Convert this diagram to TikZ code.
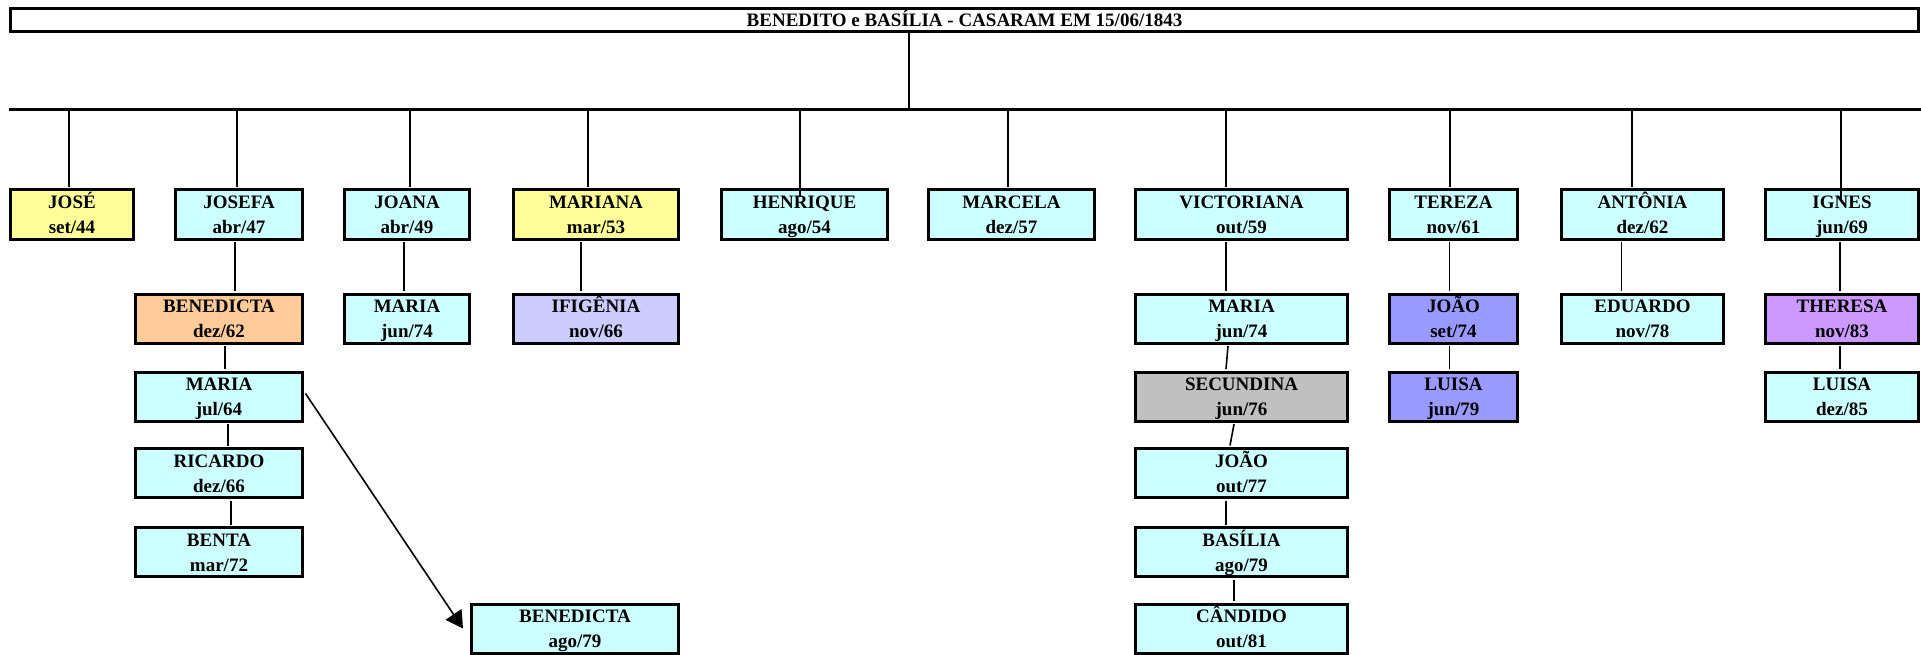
\documentclass[tikz,border=0pt]{standalone}
\usepackage{fontspec}
\setmainfont{Liberation Serif}
\usetikzlibrary{arrows.meta}
\definecolor{cyanbox}{HTML}{CCFFFF}
\definecolor{yellowbox}{HTML}{FFFF99}
\definecolor{orangebox}{HTML}{FFCC99}
\definecolor{lavenderbox}{HTML}{CCCCFF}
\definecolor{bluebox}{HTML}{9999FF}
\definecolor{purplebox}{HTML}{CC99FF}
\definecolor{graybox}{HTML}{C0C0C0}
\begin{document}
\begin{tikzpicture}[x=1pt,y=-1pt,
  person/.style={draw=black, line width=3pt, inner sep=0pt, align=center,
    font=\bfseries\fontsize{19}{25}\selectfont, text height=38pt, text depth=-1pt,
    minimum height=49pt},
  titlebox/.style={draw=black, line width=3pt, inner sep=0pt,
    font=\bfseries\fontsize{19}{25}\selectfont, text height=13pt, text depth=0pt,
    minimum height=23pt, minimum width=1908pt},
  link/.style={line width=1.6pt},
  bar/.style={line width=3pt},
  arrowlink/.style={line width=1.6pt, -{Triangle[length=17pt,width=19pt]}}]
\useasboundingbox (0,0) rectangle (1921,655);
\fill[white] (0,0) rectangle (1921,655);

% title
\node[titlebox] (title) at (964.5,20) {BENEDITO e BASÍLIA - CASARAM EM 15/06/1843};
\coordinate (barL) at (9,110);
\coordinate (barR) at (1921,110);
\coordinate (barC) at (909,110);

% row 1
\node[person, fill=yellowbox, minimum width=123pt] (jose) at (72,214.5) {JOSÉ\\set/44};
\node[person, fill=cyanbox, minimum width=127pt] (josefa) at (239,214.5) {JOSEFA\\abr/47};
\node[person, fill=cyanbox, minimum width=125pt] (joana) at (407,214.5) {JOANA\\abr/49};
\node[person, fill=yellowbox, minimum width=165pt] (mariana) at (596,214.5) {MARIANA\\mar/53};
\node[person, fill=cyanbox, minimum width=166pt] (henrique) at (804.5,214.5) {HENRIQUE\\ago/54};
\node[person, fill=cyanbox, minimum width=166pt] (marcela) at (1011.5,214.5) {MARCELA\\dez/57};
\node[person, fill=cyanbox, minimum width=212pt] (victoriana) at (1241.5,214.5) {VICTORIANA\\out/59};
\node[person, fill=cyanbox, minimum width=128pt] (tereza) at (1453.5,214.5) {TEREZA\\nov/61};
\node[person, fill=cyanbox, minimum width=162pt] (antonia) at (1642.5,214.5) {ANTÔNIA\\dez/62};
\node[person, fill=cyanbox, minimum width=153pt] (ignes) at (1842,214.5) {IGNES\\jun/69};

% row 2
\node[person, fill=orangebox, minimum width=167pt] (benedicta1) at (219,318.5) {BENEDICTA\\dez/62};
\node[person, fill=cyanbox, minimum width=125pt] (mariaj) at (407,318.5) {MARIA\\jun/74};
\node[person, fill=lavenderbox, minimum width=165pt] (ifigenia) at (596,318.5) {IFIGÊNIA\\nov/66};
\node[person, fill=cyanbox, minimum width=212pt] (mariav) at (1241.5,318.5) {MARIA\\jun/74};
\node[person, fill=bluebox, minimum width=128pt] (joaot) at (1453.5,318.5) {JOÃO\\set/74};
\node[person, fill=cyanbox, minimum width=162pt] (eduardo) at (1642.5,318.5) {EDUARDO\\nov/78};
\node[person, fill=purplebox, minimum width=153pt] (theresa) at (1842,318.5) {THERESA\\nov/83};

% row 3
\node[person, fill=cyanbox, minimum width=167pt] (maria64) at (219,396.5) {MARIA\\jul/64};
\node[person, fill=graybox, minimum width=212pt] (secundina) at (1241.5,396.5) {SECUNDINA\\jun/76};
\node[person, fill=bluebox, minimum width=128pt] (luisa79) at (1453.5,396.5) {LUISA\\jun/79};
\node[person, fill=cyanbox, minimum width=153pt] (luisa85) at (1842,396.5) {LUISA\\dez/85};

% row 4
\node[person, fill=cyanbox, minimum width=167pt] (ricardo) at (219,473) {RICARDO\\dez/66};
\node[person, fill=cyanbox, minimum width=212pt] (joao77) at (1241.5,473) {JOÃO\\out/77};

% row 5
\node[person, fill=cyanbox, minimum width=167pt] (benta) at (219,552) {BENTA\\mar/72};
\node[person, fill=cyanbox, minimum width=212pt] (basilia) at (1241.5,552) {BASÍLIA\\ago/79};

% row 6
\node[person, fill=cyanbox, minimum width=207pt] (benedicta79) at (575,628.5) {BENEDICTA\\ago/79};
\node[person, fill=cyanbox, minimum width=212pt] (candido) at (1241.5,628.5) {CÂNDIDO\\out/81};

% main bar and stem
\draw[bar] (barL) -- (barR);
\draw[link] (title.south -| barC) -- (barC);

% drops from the bar
\draw[link] ([xshift=-3pt]jose.north |- barL) -- ([xshift=-3pt,yshift=1.5pt]jose.north);
\draw[link] ([xshift=-2pt]josefa.north |- barL) -- ([xshift=-2pt,yshift=1.5pt]josefa.north);
\draw[link] ([xshift=3pt]joana.north |- barL) -- ([xshift=3pt,yshift=1.5pt]joana.north);
\draw[link] ([xshift=-8pt]mariana.north |- barL) -- ([xshift=-8pt,yshift=1.5pt]mariana.north);
\draw[link] ([xshift=-4.5pt]henrique.north |- barL) -- ([xshift=-4.5pt,yshift=-9pt]henrique.north);
\draw[link] ([xshift=-3.5pt]marcela.north |- barL) -- ([xshift=-3.5pt,yshift=1.5pt]marcela.north);
\draw[link] ([xshift=-15.5pt]victoriana.north |- barL) -- ([xshift=-15.5pt,yshift=1.5pt]victoriana.north);
\draw[link] ([xshift=-3.5pt]tereza.north |- barL) -- ([xshift=-3.5pt,yshift=1.5pt]tereza.north);
\draw[link] ([xshift=-10.5pt]antonia.north |- barL) -- ([xshift=-10.5pt,yshift=1.5pt]antonia.north);
\draw[link] ([xshift=-1pt]ignes.north |- barL) -- ([xshift=-1pt,yshift=-13pt]ignes.north);

% descendant links
\draw[link] ([xshift=-4pt,yshift=-1.5pt]josefa.south) -- ([xshift=-4pt,yshift=1.5pt]josefa.south |- benedicta1.north);
\draw[link] ([xshift=6pt,yshift=-1.5pt]benedicta1.south) -- ([xshift=6pt,yshift=1.5pt]benedicta1.south |- maria64.north);
\draw[link] ([xshift=9pt,yshift=-1.5pt]maria64.south) -- ([xshift=9pt,yshift=1.5pt]maria64.south |- ricardo.north);
\draw[link] ([xshift=12pt,yshift=-1.5pt]ricardo.south) -- ([xshift=12pt,yshift=1.5pt]ricardo.south |- benta.north);
\draw[link] ([xshift=-3pt,yshift=-1.5pt]joana.south) -- ([xshift=-3pt,yshift=1.5pt]joana.south |- mariaj.north);
\draw[link] ([xshift=-15pt,yshift=-1.5pt]mariana.south) -- ([xshift=-15pt,yshift=1.5pt]mariana.south |- ifigenia.north);
\draw[link] ([xshift=-15.5pt,yshift=-1.5pt]victoriana.south) -- ([xshift=-15.5pt,yshift=1.5pt]victoriana.south |- mariav.north);
\draw[link] ([xshift=-13.5pt,yshift=-1.5pt]mariav.south) -- ([xshift=-15.5pt,yshift=1.5pt]secundina.north);
\draw[link] ([xshift=-7.5pt,yshift=-1.5pt]secundina.south) -- ([xshift=-11.5pt,yshift=1.5pt]joao77.north);
\draw[link] ([xshift=-15.5pt,yshift=-1.5pt]joao77.south) -- ([xshift=-15.5pt,yshift=1.5pt]basilia.north);
\draw[link] ([xshift=-7.5pt,yshift=-1.5pt]basilia.south) -- ([xshift=-7.5pt,yshift=1.5pt]candido.north);
\draw[link] ([xshift=-4pt,yshift=-1.5pt]tereza.south) -- ([xshift=-4pt,yshift=1.5pt]joaot.north);
\draw[link] ([xshift=-4pt,yshift=-1.5pt]joaot.south) -- ([xshift=-4pt,yshift=1.5pt]luisa79.north);
\draw[link] ([xshift=-21pt,yshift=-1.5pt]antonia.south) -- ([xshift=-21pt,yshift=1.5pt]eduardo.north);
\draw[link] ([xshift=-2pt,yshift=-1.5pt]ignes.south) -- ([xshift=-2pt,yshift=1.5pt]theresa.north);
\draw[link] ([xshift=-2pt,yshift=-1.5pt]theresa.south) -- ([xshift=-2pt,yshift=1.5pt]luisa85.north);

% arrow
\draw[arrowlink] ([xshift=1.5pt,yshift=3pt]maria64.east) -- ([xshift=-7pt]benedicta79.west);
\end{tikzpicture}
\end{document}
